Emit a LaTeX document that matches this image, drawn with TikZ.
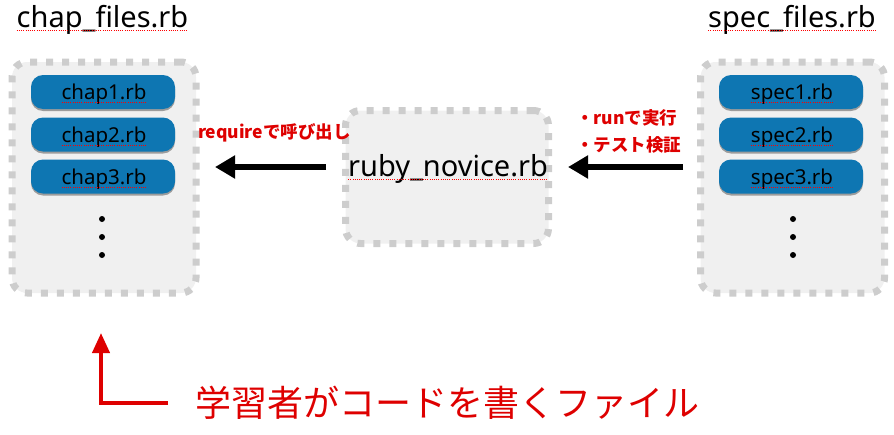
\documentclass[tikz,border=0pt]{standalone}
\usepackage{fontspec}
\setmainfont{Noto Sans CJK JP}
\newfontfamily\lat{Noto Sans}
\usetikzlibrary{arrows.meta,shadows}
\definecolor{boxfill}{RGB}{240,240,240}
\definecolor{boxedge}{RGB}{205,205,205}
\definecolor{pillblue}{RGB}{14,118,178}
\definecolor{labred}{RGB}{222,0,0}
\tikzset{
  container/.style={draw=boxedge, fill=boxfill, line width=7pt, dash pattern=on 7pt off 9pt, rounded corners=15pt, inner sep=0pt},
  pill/.style={fill=pillblue, rounded corners=12pt, minimum width=144pt, minimum height=34pt, inner sep=0pt,
    drop shadow={shadow xshift=0pt, shadow yshift=-2pt, opacity=0.35, fill=black}},
  pilltext/.style={inner sep=0pt, outer sep=0pt, font=\lat\fontsize{20.5}{20.5}\selectfont, anchor=base},
  titletext/.style={inner sep=0pt, outer sep=0pt, font=\lat\fontsize{29}{29}\selectfont, anchor=base},
  redlab/.style={inner sep=0pt, outer sep=0pt, text=labred, font=\fontsize{17.5}{17.5}\selectfont\bfseries, anchor=base west},
  spell/.style={draw=red, line width=0.8pt, dash pattern=on 1pt off 1.2pt},
  dotmark/.style={circle, fill=black, inner sep=0pt, minimum size=6pt},
  bigarrow/.style={line width=6pt, -{Triangle[length=20pt,width=22pt]}},
  redarrow/.style={draw=labred, line width=4pt, -{Triangle[length=20pt,width=17pt]}},
}
\begin{document}
\begin{tikzpicture}[x=1pt,y=-1pt]
\useasboundingbox (0,0) rectangle (894,434);
% containers
\node[container, minimum width=184pt, minimum height=231pt] (left) at (104,177.5) {};
\node[container, minimum width=184pt, minimum height=231pt] (right) at (792.5,177.5) {};
\node[container, minimum width=203pt, minimum height=133pt] (mid) at (447,177) {};
% titles
\node[titletext] (lt) at (102.5,27) {chap\_files.rb};
\node[titletext] (rt) at (792,27) {spec\_files.rb};
\draw[spell] ([yshift=-3pt]lt.base west) -- ([yshift=-3pt]lt.base east);
\draw[spell] ([yshift=-3pt]rt.base west) -- ([yshift=-3pt]rt.base east);
% pills left
\node[pill] (c1) at (103,92) {};
\node[pill] (c2) at (103,134.5) {};
\node[pill] (c3) at (103,176.5) {};
\node[pilltext] (c1t) at (104,99.5) {chap1.rb};
\node[pilltext] (c2t) at (104,142) {chap2.rb};
\node[pilltext] (c3t) at (104,184) {chap3.rb};
% pills right
\node[pill] (s1) at (791,92) {};
\node[pill] (s2) at (791,134.5) {};
\node[pill] (s3) at (791,176.5) {};
\node[pilltext] (s1t) at (792,99.5) {spec1.rb};
\node[pilltext] (s2t) at (792,142) {spec2.rb};
\node[pilltext] (s3t) at (792,184) {spec3.rb};
\foreach \n in {c1t,c2t,c3t,s1t,s2t,s3t}{
  \draw[spell] ([yshift=-3pt]\n.base west) -- ([yshift=-3pt]\n.base east);
}
% dots
\node[dotmark] (ld1) at (102,219) {};
\node[dotmark] (ld2) at (102,237) {};
\node[dotmark] (ld3) at (102,255) {};
\node[dotmark] (rd1) at (793,219) {};
\node[dotmark] (rd2) at (793,237) {};
\node[dotmark] (rd3) at (793,255) {};
% middle text
\node[titletext] (mt) at (448,176) {ruby\_novice.rb};
\draw[spell] ([yshift=-3pt]mt.base west) -- ([yshift=-3pt]mt.base east);
% arrows
\coordinate (a1s) at (326,167);
\coordinate (a1e) at (215,167);
\coordinate (a2s) at (683,167);
\coordinate (a2e) at (568,167);
\draw[bigarrow] (a1s) -- (a1e);
\draw[bigarrow] (a2s) -- (a2e);
% red labels
\node[redlab] (req) at (198,138) {requireで呼び出し};
\node[redlab] (run) at (576,124) {・runで実行};
\node[redlab] (tst) at (576,151) {・テスト検証};
% bottom
\coordinate (ls) at (168,403);
\coordinate (lc) at (101,403);
\coordinate (le) at (101,333);
\draw[redarrow] (ls) -- (lc) -- (le);
\node[inner sep=0pt, text=labred, font=\fontsize{36}{36}\selectfont, anchor=base west] (note) at (195,416) {学習者がコードを書くファイル};
\end{tikzpicture}
\end{document}
